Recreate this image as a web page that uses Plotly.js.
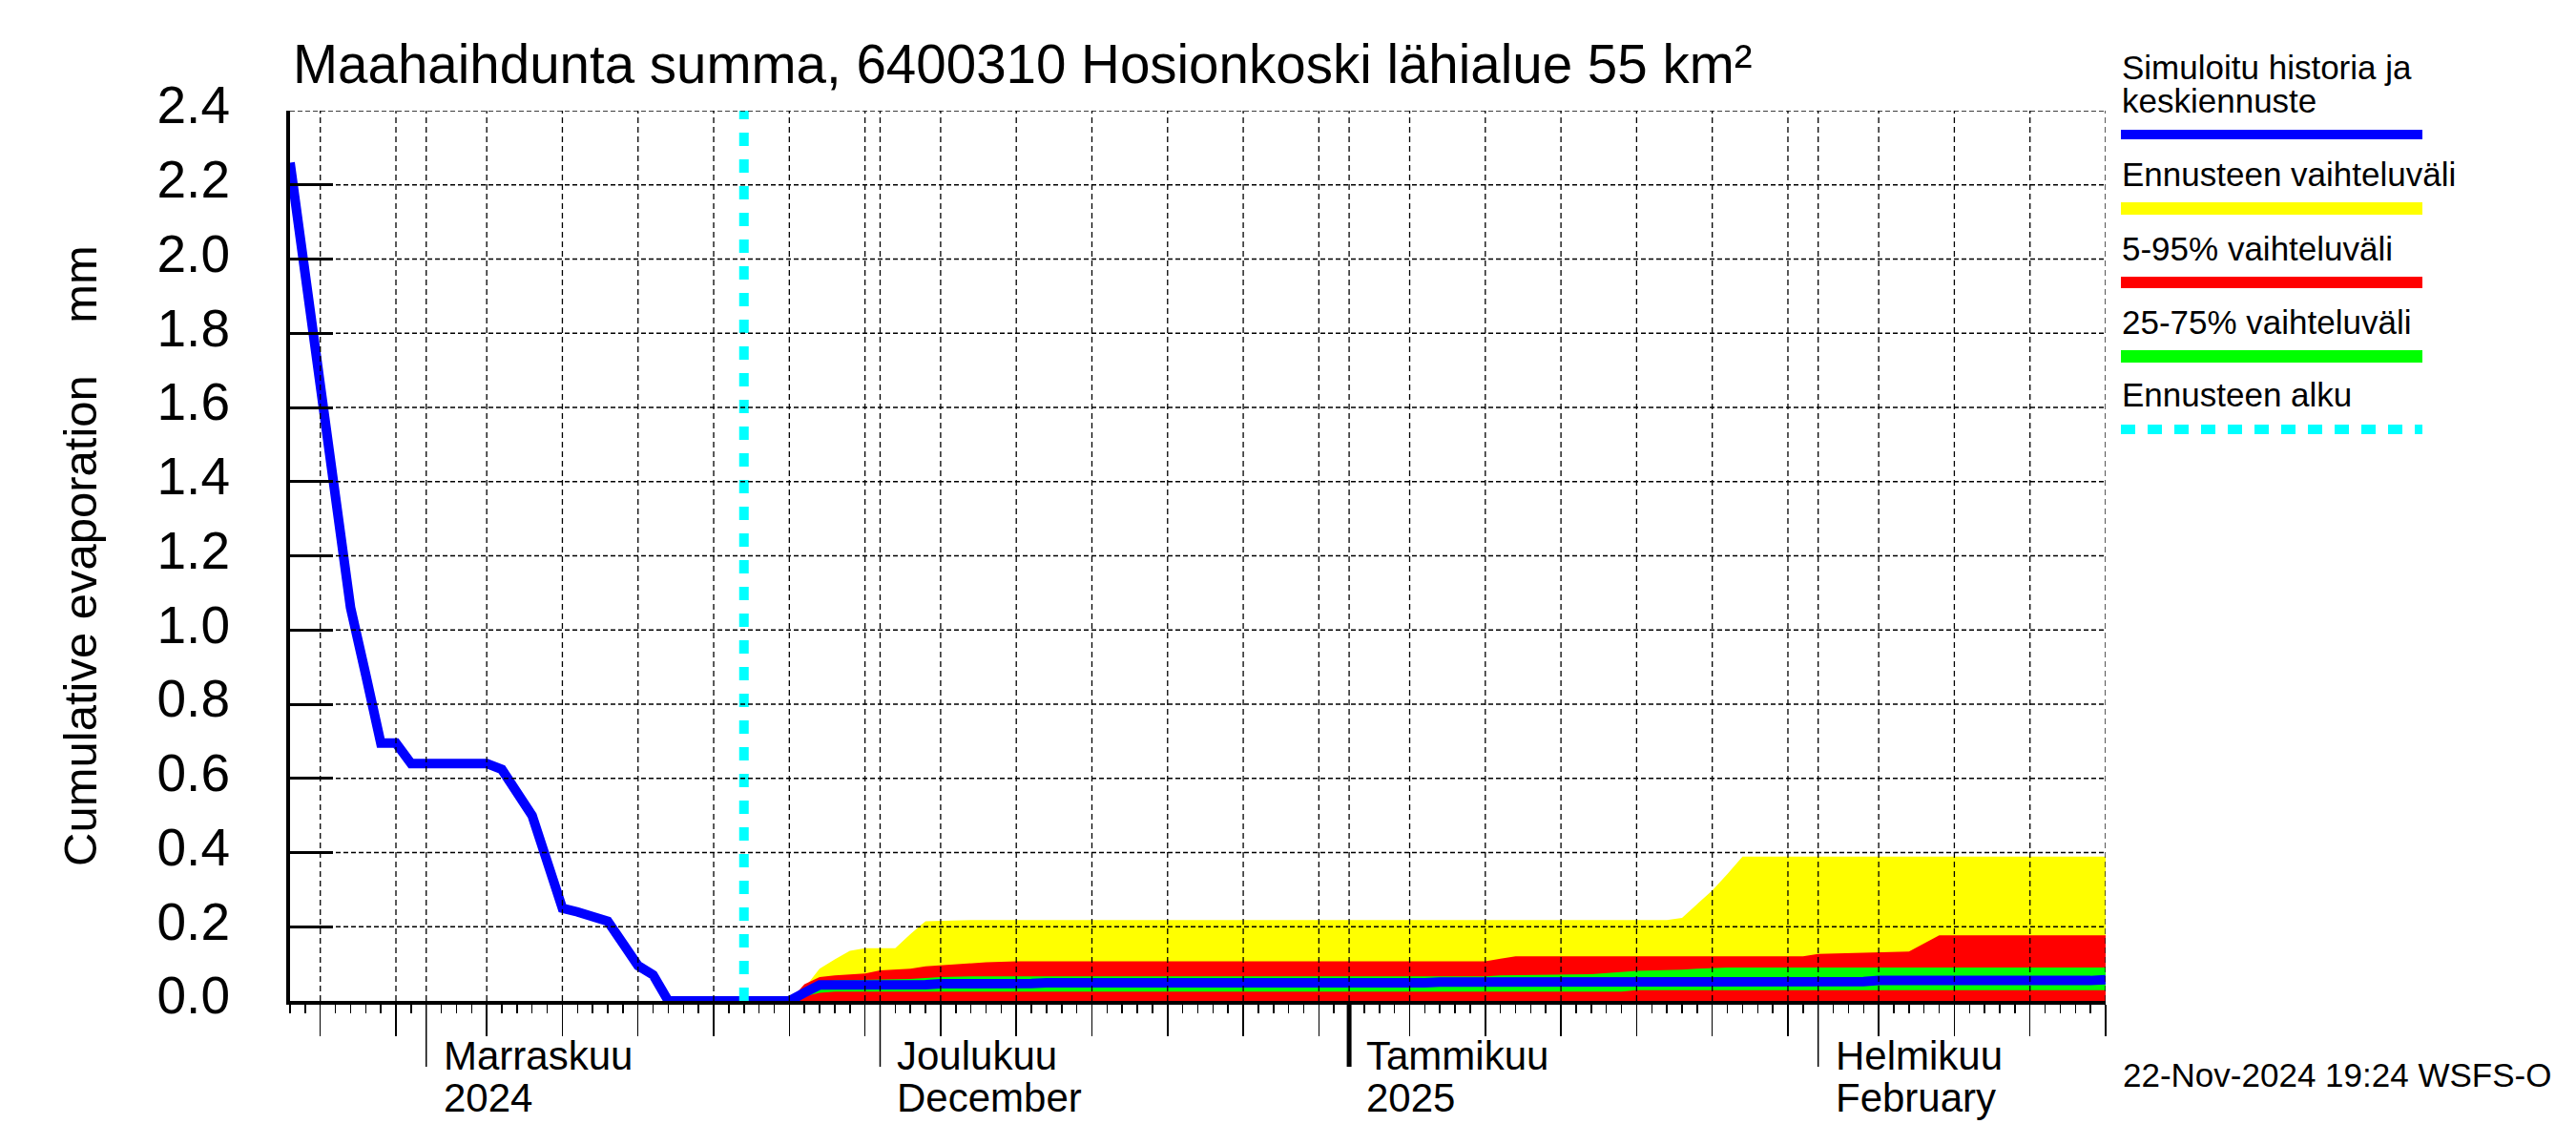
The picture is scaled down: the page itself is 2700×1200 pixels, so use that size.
<!DOCTYPE html>
<html>
<head>
<meta charset="utf-8">
<script src="https://cdn.plot.ly/plotly-3.0.1.min.js"></script>
<style>html,body{margin:0;padding:0;background:#fff;}</style>
</head>
<body>
<div id="chart" style="width:2700px;height:1200px;"></div>
<script>
// ---------------- DATA ----------------
const histDates = ['2024-10-23','2024-10-24','2024-10-25','2024-10-26','2024-10-27','2024-10-28','2024-10-29','2024-10-30','2024-10-31',
  '2024-11-01','2024-11-02','2024-11-03','2024-11-04','2024-11-05','2024-11-06','2024-11-07','2024-11-08','2024-11-09','2024-11-10',
  '2024-11-11','2024-11-12','2024-11-13','2024-11-14','2024-11-15','2024-11-16','2024-11-17','2024-11-18','2024-11-19','2024-11-20',
  '2024-11-21','2024-11-22'];
const histVals = [2.26,1.96,1.66,1.36,1.06,0.88,0.695,0.695,0.64,
  0.64,0.64,0.64,0.64,0.64,0.624,0.565,0.50,0.375,0.25,
  0.24,0.23,0.215,0.155,0.095,0.07,0,0,0,0,
  0,0];

const medDates = ['2024-11-22','2024-11-25','2024-11-26','2024-11-27','2024-12-04','2024-12-05','2024-12-11','2024-12-12',
  '2025-01-06','2025-01-07','2025-02-04','2025-02-05','2025-02-19','2025-02-20'];
const medVals = [0,0,0.022,0.043,0.044,0.046,0.047,0.049,0.049,0.051,0.052,0.055,0.055,0.057];

const maxDates = ['2024-11-22','2024-11-25','2024-11-26','2024-11-27','2024-11-28','2024-11-29','2024-11-30','2024-12-02','2024-12-03',
  '2024-12-04','2024-12-07','2025-01-22','2025-01-23','2025-01-24','2025-01-25','2025-01-26','2025-01-27','2025-02-20'];
const maxVals = [0,0,0.035,0.087,0.112,0.135,0.142,0.142,0.18,0.215,0.218,0.218,0.224,0.26,0.298,0.342,0.389,0.389];

const p95Dates = ['2024-11-22','2024-11-25','2024-11-26','2024-11-27','2024-11-28','2024-11-30','2024-12-01','2024-12-03','2024-12-04',
  '2024-12-06','2024-12-08','2024-12-10','2025-01-10','2025-01-11','2025-01-12','2025-01-31','2025-02-01','2025-02-04','2025-02-07',
  '2025-02-08','2025-02-09','2025-02-20'];
const p95Vals = [0,0,0.045,0.064,0.069,0.074,0.082,0.087,0.093,0.098,0.104,0.107,0.107,0.114,0.12,0.12,0.127,0.13,0.133,0.155,0.177,0.177];

const p75Dates = ['2024-11-22','2024-11-25','2024-11-26','2024-11-27','2024-11-28','2024-12-02','2024-12-03','2024-12-05','2024-12-07',
  '2025-01-10','2025-01-11','2025-01-17','2025-01-19','2025-01-20','2025-01-23','2025-01-24','2025-01-26','2025-02-20'];
const p75Vals = [0,0,0.03,0.05,0.055,0.057,0.059,0.064,0.066,0.066,0.069,0.072,0.078,0.081,0.084,0.087,0.09,0.09];

const p25Dates = ['2024-11-22','2024-11-25','2024-11-26','2024-11-27','2024-11-28','2025-01-19','2025-01-20','2025-02-20'];
const p25Vals = [0,0,0.012,0.022,0.025,0.025,0.029,0.029];

const forecastStart = '2024-11-22';
const yTop = 2.4;

const gridDates = ['2024-10-25','2024-10-30','2024-11-01','2024-11-05','2024-11-10','2024-11-15','2024-11-20','2024-11-25','2024-11-30',
  '2024-12-01','2024-12-05','2024-12-10','2024-12-15','2024-12-20','2024-12-25','2024-12-30','2025-01-01','2025-01-05','2025-01-10',
  '2025-01-15','2025-01-20','2025-01-25','2025-01-30','2025-02-01','2025-02-05','2025-02-10','2025-02-15','2025-02-20'];
const yGridVals = [0.2,0.4,0.6,0.8,1.0,1.2,1.4,1.6,1.8,2.0,2.2,2.4];
const monthStarts = ['2024-11-01','2024-12-01','2025-01-01','2025-02-01'];
const monthLine1 = ['Marraskuu','Joulukuu','Tammikuu','Helmikuu'];
const monthLine2 = ['2024','December','2025','February'];
const yearStart = '2025-01-01';

const titleText = 'Maahaihdunta summa, 6400310 Hosionkoski lähialue 55 km²';
const yTitleText = '\u00a0\u00a0\u00a0Cumulative evaporation\u00a0\u00a0\u00a0\u00a0mm';
const legendLabels = [['Simuloitu historia ja','keskiennuste'],['Ennusteen vaihteluväli'],['5-95% vaihteluväli'],['25-75% vaihteluväli'],['Ennusteen alku']];
const stampText = '22-Nov-2024 19:24 WSFS-O';

// ---------------- LAYOUT HELPERS ----------------
const W = 2700, H = 1200;
const M = {l:304, r:493, t:116, b:151};
const PW = W - M.l - M.r, PH = H - M.t - M.b;
const PB = H - M.b;
const FONT = 'Liberation Sans, Arial, Helvetica, sans-serif';
const px2x = px => (px - M.l) / PW;
const py2y = py => (PB - py) / PH;
function txt(text, px, baseline, size, extra) {
  return Object.assign({
    text: text, xref: 'paper', yref: 'paper', showarrow: false,
    x: px2x(px - 1), y: py2y(baseline + 0.212 * size + 1),
    xanchor: 'left', yanchor: 'bottom',
    font: {family: FONT, size: size, color: '#000'}
  }, extra || {});
}

// ---------------- TRACES ----------------
const simDates = histDates.concat(medDates.slice(1));
const simVals = histVals.concat(medVals.slice(1));

const traces = [
  {x: maxDates, y: maxVals, type: 'scatter', mode: 'lines', fill: 'tozeroy', fillcolor: '#FFFF00', line: {width: 0, color: '#FFFF00'}, name: 'Ennusteen vaihteluväli', hoverinfo: 'skip'},
  {x: p95Dates, y: p95Vals, type: 'scatter', mode: 'lines', fill: 'tozeroy', fillcolor: '#FF0000', line: {width: 0, color: '#FF0000'}, name: '5-95% vaihteluväli', hoverinfo: 'skip'},
  {x: p75Dates, y: p75Vals, type: 'scatter', mode: 'lines', fill: 'tozeroy', fillcolor: '#00FF00', line: {width: 0, color: '#00FF00'}, name: '25-75% vaihteluväli', hoverinfo: 'skip'},
  {x: p25Dates, y: p25Vals, type: 'scatter', mode: 'lines', fill: 'tozeroy', fillcolor: '#FF0000', line: {width: 0, color: '#FF0000'}, name: '25%', hoverinfo: 'skip'},
  {x: simDates, y: simVals, type: 'scatter', mode: 'lines', line: {width: 10, color: '#0000FF'}, name: 'Simuloitu historia ja keskiennuste'},
  {x: [forecastStart, forecastStart], y: [0, yTop], type: 'scatter', mode: 'lines', line: {width: 10, color: '#00FFFF', dash: '14px,14px'}, name: 'Ennusteen alku'}
];

// ---------------- SHAPES ----------------
const shapes = [];
gridDates.forEach(d => shapes.push({type: 'line', xref: 'x', yref: 'y', x0: d, x1: d, y0: 0, y1: yTop, layer: 'above',
  line: {color: '#000', width: 1.3, dash: '6px,4px'}}));
yGridVals.forEach(v => shapes.push({type: 'line', xref: 'paper', yref: 'y', x0: 0, x1: 1, y0: v, y1: v, layer: 'above',
  line: {color: '#000', width: 1.3, dash: '5px,3px'}}));
monthStarts.forEach(d => shapes.push({type: 'line', xref: 'x', yref: 'paper', x0: d, x1: d, y0: 0, y1: -69 / PH, layer: 'above',
  line: {color: '#000', width: d === yearStart ? 5 : 1.5}}));

// legend bars
const legX0 = px2x(2223), legX1 = px2x(2539);
const legBars = [
  {py: 141, w: 10, c: '#0000FF'},
  {py: 218.5, w: 13, c: '#FFFF00'},
  {py: 296, w: 12, c: '#FF0000'},
  {py: 373.5, w: 13, c: '#00FF00'},
  {py: 450, w: 10, c: '#00FFFF', dash: '15px,13px'}
];
legBars.forEach(b => shapes.push({type: 'line', xref: 'paper', yref: 'paper', x0: legX0, x1: legX1, y0: py2y(b.py), y1: py2y(b.py),
  line: {color: b.c, width: b.w, dash: b.dash || 'solid'}}));

// ---------------- ANNOTATIONS ----------------
const annotations = [];
const legBase = [[84, 119], [196], [274], [351], [427]];
legendLabels.forEach((lines, i) => lines.forEach((t, j) => annotations.push(txt(t, 2223, legBase[i][j], 35))));
monthStarts.forEach((d, i) => {
  annotations.push({text: monthLine1[i], xref: 'x', yref: 'paper', x: d, y: py2y(1121.7 + 0.212 * 42 + 1), xshift: 16,
    xanchor: 'left', yanchor: 'bottom', showarrow: false, font: {family: FONT, size: 42, color: '#000'}});
  annotations.push({text: monthLine2[i], xref: 'x', yref: 'paper', x: d, y: py2y(1165.7 + 0.212 * 42 + 1), xshift: 16,
    xanchor: 'left', yanchor: 'bottom', showarrow: false, font: {family: FONT, size: 42, color: '#000'}});
});
annotations.push(txt(stampText, 2224, 1140, 35));

// ---------------- LAYOUT ----------------
const layout = {
  width: W, height: H,
  margin: M,
  paper_bgcolor: '#fff', plot_bgcolor: '#fff',
  showlegend: false,
  font: {family: FONT, color: '#000'},
  title: {text: titleText, font: {family: FONT, size: 56.5, color: '#000'},
    xref: 'container', yref: 'container', x: 307 / W, xanchor: 'left', y: 1 - 67 / H, yanchor: 'middle'},
  xaxis: {
    type: 'date', range: ['2024-10-23', '2025-02-20'], fixedrange: true,
    showgrid: false, zeroline: false, showline: true, linecolor: '#000', linewidth: 4,
    layer: 'below traces',
    ticks: 'outside', tickmode: 'array', tickvals: gridDates, ticklen: 33, tickwidth: 1.5, tickcolor: '#000',
    showticklabels: false,
    minor: {ticks: 'outside', ticklen: 9, tickwidth: 1.5, tickcolor: '#000', dtick: 86400000, tick0: '2024-10-23', showgrid: false}
  },
  yaxis: {
    range: [0, yTop], fixedrange: true,
    showgrid: false, zeroline: false, showline: true, linecolor: '#000', linewidth: 4,
    ticks: 'inside', ticklen: 45, tickwidth: 3, tickcolor: '#000',
    tickmode: 'linear', tick0: 0, dtick: 0.2, tickformat: '.1f',
    tickfont: {family: FONT, size: 55, color: '#000'},
    ticklabelstandoff: 48, ticklabelshift: -6,
    title: {text: yTitleText, font: {family: FONT, size: 49, color: '#000'}, standoff: 48}
  },
  shapes: shapes,
  annotations: annotations
};

Plotly.newPlot('chart', traces, layout, {staticPlot: true, displayModeBar: false});
</script>
</body>
</html>
